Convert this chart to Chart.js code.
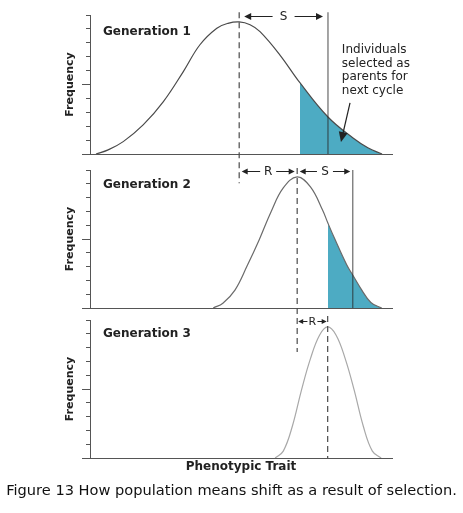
<!DOCTYPE html>
<html>
<head>
<meta charset="utf-8">
<script src="https://cdn.jsdelivr.net/npm/chart.js@4.4.0/dist/chart.umd.min.js"></script>
<style>
  html, body { margin: 0; padding: 0; background: #fff; }
  #wrap { position: relative; width: 463px; height: 513px; overflow: hidden; }
  #wrap canvas { position: absolute; left: 0; top: 0; }
  #caption {
    position: absolute; left: 0; top: 480px; width: 463px; text-align: center;
    font: 14.6px "DejaVu Sans", sans-serif; line-height: 20px; color: #111;
  }
</style>
</head>
<body>
<div id="wrap">
  <canvas id="gen1" width="463" height="513"></canvas>
  <canvas id="gen2" width="463" height="513"></canvas>
  <canvas id="gen3" width="463" height="513"></canvas>
  <div id="caption">Figure 13 How population means shift as a result of selection.</div>
</div>
<script>
// phenotypic trait on x (0-100), frequency on y (0-10)
const gen1X = [2, 6, 11, 17.6, 24.3, 30.9, 36.4, 42, 45.7, 49.4, 53, 56.3, 62.9, 69.5, 78.8, 87.1, 92, 96.7];
const gen1Y = [0, 0.3, 0.89, 2.09, 3.77, 5.93, 7.86, 9.05, 9.4, 9.5, 9.3, 8.8, 7.12, 5.13, 2.66, 1.15, 0.45, 0];

const gen2X = [40.8, 44, 48, 52, 56, 60, 64, 68.6, 73, 77, 78.8, 81, 85, 87, 90, 93, 96.6];
const gen2Y = [0, 0.35, 1.3, 3.04, 4.93, 7.0, 8.7, 9.5, 8.77, 7.1, 6.14, 5.03, 3.13, 2.39, 1.3, 0.4, 0];

const gen3X = [61.3, 64, 67, 70, 73, 76, 78.7, 81.5, 84.5, 87.5, 90.5, 93.5, 96.4];
const gen3Y = [0, 0.5, 2.3, 4.9, 7.2, 8.9, 9.5, 8.9, 7.2, 4.9, 2.3, 0.5, 0];

const popMeans = [49.4, 68.6, 78.7];     // dashed lines
const truncation = [69.5, 78.8];         // start of the selected (shaded) tail
const selectedMeans = [78.8, 87];        // solid lines
const noteLines = ['Individuals', 'selected as', 'parents for', 'next cycle'];

const AXIS = '#555';
const INK = '#222';
const SHADE = '#4dabc3';
const FONT = '"DejaVu Sans", sans-serif';
Chart.defaults.font.family = FONT;

function shadeFill(chart, from) {
  const {ctx, chartArea, scales} = chart;
  if (from == null || !chartArea) return 'rgba(0,0,0,0)';
  const t = (scales.x.getPixelForValue(from) - chartArea.left) / (chartArea.right - chartArea.left);
  const g = ctx.createLinearGradient(chartArea.left, 0, chartArea.right, 0);
  g.addColorStop(0, 'rgba(77,171,195,0)');
  g.addColorStop(t, 'rgba(77,171,195,0)');
  g.addColorStop(t, SHADE);
  g.addColorStop(1, SHADE);
  return g;
}

function arrowHead(ctx, tx, ty, dx, dy, len, half) {
  const n = Math.hypot(dx, dy), ux = dx / n, uy = dy / n;
  ctx.beginPath();
  ctx.moveTo(tx, ty);
  ctx.lineTo(tx - ux * len - uy * half, ty - uy * len + ux * half);
  ctx.lineTo(tx - ux * len + uy * half, ty - uy * len - ux * half);
  ctx.closePath();
  ctx.fill();
}

const marksPlugin = {
  id: 'marks',
  afterDraw(chart, args, o) {
    const {ctx, chartArea} = chart;
    const px = v => chart.scales.x.getPixelForValue(v);
    const py = v => chart.scales.y.getPixelForValue(v);
    const crisp = p => Math.round(p - 0.5) + 0.5;
    ctx.save();

    // long middle tick and baseline stub left of the axis
    ctx.strokeStyle = AXIS;
    ctx.lineWidth = 1;
    ctx.beginPath();
    [0, 5].forEach(v => {
      const yy = crisp(py(v));
      ctx.moveTo(chartArea.left - 8, yy);
      ctx.lineTo(chartArea.left, yy);
    });
    ctx.stroke();

    (o.solid || []).forEach(s => {
      ctx.strokeStyle = 'rgba(40,40,40,0.6)';
      ctx.lineWidth = 1.4;
      ctx.beginPath();
      ctx.moveTo(px(s.x), py(s.from));
      ctx.lineTo(px(s.x), py(s.to));
      ctx.stroke();
    });

    (o.dashed || []).forEach(d => {
      ctx.strokeStyle = '#4a4a4a';
      ctx.lineWidth = 1.2;
      ctx.setLineDash([6, 4]);
      ctx.beginPath();
      ctx.moveTo(px(d.x), py(d.from));
      ctx.lineTo(px(d.x), py(d.to));
      ctx.stroke();
      ctx.setLineDash([]);
    });

    ctx.fillStyle = INK;
    ctx.strokeStyle = INK;
    ctx.textAlign = 'center';
    ctx.textBaseline = 'middle';
    (o.arrows || []).forEach(a => {
      const y = crisp(py(a.y));
      const x1 = px(a.from), x2 = px(a.to), c = (x1 + x2) / 2;
      const l = x1 + a.inset, r = x2 - a.inset;
      ctx.lineWidth = 1;
      ctx.beginPath();
      ctx.moveTo(c - a.gap, y); ctx.lineTo(l + a.head - 1, y);
      ctx.moveTo(c + a.gap, y); ctx.lineTo(r - a.head + 1, y);
      ctx.stroke();
      arrowHead(ctx, l, y, -1, 0, a.head, a.head * 0.5);
      arrowHead(ctx, r, y, 1, 0, a.head, a.head * 0.5);
      ctx.font = a.size + 'px ' + FONT;
      ctx.fillText(a.text, c, y + 0.5);
    });

    ctx.textAlign = 'left';
    (o.labels || []).forEach(t => {
      ctx.font = 'bold 12px ' + FONT;
      ctx.fillText(t.text, px(t.x), py(t.y));
    });

    if (o.note) {
      ctx.font = '12px ' + FONT;
      o.note.lines.forEach((line, i) => ctx.fillText(line, px(o.note.x), py(o.note.y[i])));
    }

    if (o.pointer) {
      const p = o.pointer;
      const x1 = px(p.x1), y1 = py(p.y1), x2 = px(p.x2), y2 = py(p.y2);
      const n = Math.hypot(x2 - x1, y2 - y1);
      ctx.lineWidth = 1.2;
      ctx.beginPath();
      ctx.moveTo(x1, y1);
      ctx.lineTo(x2 - (x2 - x1) / n * 8, y2 - (y2 - y1) / n * 8);
      ctx.stroke();
      arrowHead(ctx, x2, y2, x2 - x1, y2 - y1, 10, 4.5);
    }
    ctx.restore();
  }
};

function panel(id, xs, ys, curveColor, shadeFrom, padTop, padBottom, showTrait, marks) {
  return new Chart(document.getElementById(id), {
    type: 'line',
    data: {
      datasets: [{
        data: xs.map((v, i) => ({x: v, y: ys[i]})),
        borderColor: curveColor,
        borderWidth: 1.2,
        pointRadius: 0,
        tension: 0.4,
        fill: shadeFrom == null ? false : 'origin',
        backgroundColor: c => shadeFill(c.chart, shadeFrom)
      }]
    },
    options: {
      responsive: false,
      animation: false,
      events: [],
      layout: {padding: {left: 63.4, right: 71, top: padTop, bottom: padBottom}},
      plugins: {legend: {display: false}, tooltip: {enabled: false}, marks: marks},
      scales: {
        x: {
          type: 'linear', min: 0, max: 100,
          grid: {display: false, drawTicks: false, tickLength: 0},
          ticks: {display: false},
          border: {color: AXIS, width: 1},
          title: {
            display: showTrait, text: 'Phenotypic Trait', color: INK,
            font: {size: 12, weight: 'bold'}, padding: {top: 2, bottom: 0}
          }
        },
        y: {
          min: 0, max: 10,
          ticks: {display: false, stepSize: 1},
          grid: {drawOnChartArea: false, tickLength: 4, color: AXIS, tickColor: AXIS},
          border: {color: AXIS, width: 1},
          title: {
            display: true, text: 'Frequency', color: INK,
            font: {size: 11, weight: 'bold'}, padding: {top: 0, bottom: 9.4}
          }
        }
      }
    },
    plugins: [marksPlugin]
  });
}

panel('gen1', gen1X, gen1Y, '#4a4a4a', truncation[0], 15, 359, false, {
  dashed: [{x: popMeans[0], from: 10.2, to: -2.1}],
  solid: [{x: selectedMeans[0], from: 10.2, to: 0}],
  arrows: [{y: 9.86, from: popMeans[0], to: selectedMeans[0], text: 'S', inset: 5, gap: 11, head: 7, size: 12}],
  labels: [{x: 4.3, y: 8.8, text: 'Generation 1'}],
  note: {x: 83.4, y: [7.48, 6.51, 5.54, 4.57], lines: noteLines},
  pointer: {x1: 86.1, y1: 3.67, x2: 83.1, y2: 0.86}
});

panel('gen2', gen2X, gen2Y, '#6a6a6a', truncation[1], 170, 205, false, {
  dashed: [{x: popMeans[1], from: 10.14, to: -3.19}],
  solid: [{x: selectedMeans[1], from: 10.0, to: 0}],
  arrows: [
    {y: 9.86, from: popMeans[0], to: popMeans[1], text: 'R', inset: 2.5, gap: 8, head: 6, size: 12},
    {y: 9.86, from: popMeans[1], to: selectedMeans[1], text: 'S', inset: 2.5, gap: 8, head: 6, size: 12}
  ],
  labels: [{x: 4.3, y: 8.9, text: 'Generation 2'}]
});

panel('gen3', gen3X, gen3Y, '#a8a8a8', null, 320, 38.6, true, {
  dashed: [{x: popMeans[2], from: 10.29, to: 0}],
  arrows: [{y: 9.86, from: popMeans[1], to: popMeans[2], text: 'R', inset: 1, gap: 5, head: 5, size: 11}],
  labels: [{x: 4.3, y: 8.99, text: 'Generation 3'}]
});
</script>
</body>
</html>
